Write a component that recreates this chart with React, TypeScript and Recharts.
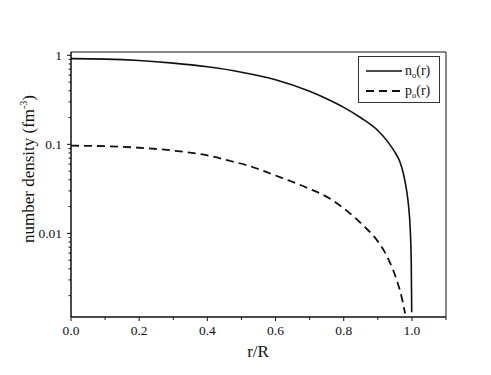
import React from 'react'
import { LineChart, Line, XAxis, YAxis, Legend, Label, ReferenceArea } from 'recharts'

// values (r/R, fm^-3)
const nR = [0, 0.1, 0.2, 0.3, 0.4, 0.5, 0.6, 0.7, 0.75, 0.8, 0.85, 0.9, 0.93, 0.95, 0.965, 0.975, 0.985, 0.99, 0.995, 0.998, 0.9995]
const nVal = [0.918, 0.907, 0.874, 0.818, 0.743, 0.647, 0.533, 0.395, 0.325, 0.26, 0.199, 0.143, 0.106, 0.0816, 0.0633, 0.0468, 0.0294, 0.0206, 0.0113, 0.00484, 0.0013]

const pR = [0, 0.1, 0.2, 0.3, 0.4, 0.471, 0.525, 0.559, 0.6, 0.642, 0.7, 0.76, 0.8, 0.857, 0.9, 0.926, 0.955, 0.97, 0.98]
const pVal = [0.0966, 0.0953, 0.0916, 0.0851, 0.075, 0.0646, 0.0569, 0.0513, 0.0447, 0.0389, 0.0316, 0.0245, 0.0191, 0.0123, 0.00813, 0.00562, 0.00302, 0.00192, 0.00126]

const xTicks = [0, 0.1, 0.2, 0.3, 0.4, 0.5, 0.6, 0.7, 0.8, 0.9, 1.0, 1.1]
const yMajor = [0.01, 0.1, 1]
const yTicks = [
  0.002, 0.003, 0.004, 0.005, 0.006, 0.007, 0.008, 0.009,
  0.01, 0.02, 0.03, 0.04, 0.05, 0.06, 0.07, 0.08, 0.09,
  0.1, 0.2, 0.3, 0.4, 0.5, 0.6, 0.7, 0.8, 0.9, 1,
]

const nData = nR.map((r, i) => ({ r, v: nVal[i] }))
const pData = pR.map((r, i) => ({ r, v: pVal[i] }))

const FONT = '"Liberation Serif", "DejaVu Serif", serif'
const INK = '#111'

function XTick({ x, y, payload }: any) {
  const v = payload.value
  const major = Math.round(v * 10) % 2 === 0 && v < 1.05
  return (
    <g>
      <line x1={x} x2={x} y1={y} y2={y + (major ? 4 : 3)} stroke={INK} strokeWidth={1} />
      {major && (
        <text x={x} y={y + 18} textAnchor="middle" fontSize={13.5} fontFamily={FONT} fill={INK}>
          {v.toFixed(1)}
        </text>
      )}
    </g>
  )
}

function YTick({ x, y, payload }: any) {
  const v = payload.value
  const major = yMajor.some(m => Math.abs(m - v) < m * 0.01)
  return (
    <g>
      <line x1={x} x2={x - (major ? 4 : 2.5)} y1={y} y2={y} stroke={INK} strokeWidth={1} />
      {major && (
        <text x={x - 9} y={y + 4.5} textAnchor="end" fontSize={13.5} fontFamily={FONT} fill={INK}>
          {String(v)}
        </text>
      )}
    </g>
  )
}

function LegendBox() {
  return (
    <svg width={82} height={48} style={{ display: 'block' }}>
      <rect x={0.5} y={0.5} width={81} height={46} fill="#fff" stroke="#333" strokeWidth={1} />
      <line x1={8} x2={44} y1={15} y2={15} stroke={INK} strokeWidth={1.6} />
      <line x1={8} x2={44} y1={35} y2={35} stroke={INK} strokeWidth={1.8} strokeDasharray="8 5" />
      <text x={47} y={19} fontSize={14} fontFamily={FONT} fill={INK}>
        n<tspan fontSize={8.5} dy={3}>o</tspan><tspan dy={-3}>(r)</tspan>
      </text>
      <text x={47} y={39} fontSize={14} fontFamily={FONT} fill={INK}>
        p<tspan fontSize={8.5} dy={3}>o</tspan><tspan dy={-3}>(r)</tspan>
      </text>
    </svg>
  )
}

export default function App() {
  return (
    <div style={{ position: 'absolute', left: 0, top: 0, background: '#fff' }}>
      <LineChart width={491} height={375} margin={{ top: 52, right: 45, left: 0, bottom: 0 }}>
        <XAxis
          dataKey="r"
          type="number"
          domain={[0, 1.1]}
          ticks={xTicks}
          interval={0}
          tickSize={0}
          tickMargin={0}
          tickLine={false}
          tick={<XTick />}
          height={58}
          axisLine={{ stroke: INK, strokeWidth: 1 }}
          allowDataOverflow
        >
          <Label
            content={() => (
              <text x={258} y={357} textAnchor="middle" fontSize={17} fontFamily={FONT} fill={INK}>
                r/R
              </text>
            )}
          />
        </XAxis>
        <YAxis
          type="number"
          scale="log"
          domain={[0.00115, 1.09]}
          ticks={yTicks}
          interval={0}
          tickSize={0}
          tickMargin={0}
          tickLine={false}
          tick={<YTick />}
          width={71}
          axisLine={{ stroke: INK, strokeWidth: 1 }}
          allowDataOverflow
        >
          <Label
            content={() => (
              <text
                x={0}
                y={0}
                transform="translate(34,169) rotate(-90)"
                textAnchor="middle"
                fontSize={17}
                fontFamily={FONT}
                fill={INK}
              >
                number density (fm<tspan fontSize={10} dy={-7}>-3</tspan><tspan dy={7}>)</tspan>
              </text>
            )}
          />
        </YAxis>
        <ReferenceArea
          x1={0}
          x2={1.1}
          y1={0.00115}
          y2={1.09}
          fill="none"
          stroke={INK}
          strokeWidth={1}
          ifOverflow="visible"
        />
        <Legend
          layout="horizontal"
          verticalAlign="middle"
          content={() => <LegendBox />}
          wrapperStyle={{ position: 'absolute', left: 358, top: 56, width: 82, height: 48 }}
        />
        <Line
          data={nData}
          dataKey="v"
          type="monotone"
          stroke={INK}
          strokeWidth={1.6}
          dot={false}
          isAnimationActive={false}
        />
        <Line
          data={pData}
          dataKey="v"
          type="monotone"
          stroke={INK}
          strokeWidth={1.8}
          strokeDasharray="8 5"
          dot={false}
          isAnimationActive={false}
        />
      </LineChart>
    </div>
  )
}
